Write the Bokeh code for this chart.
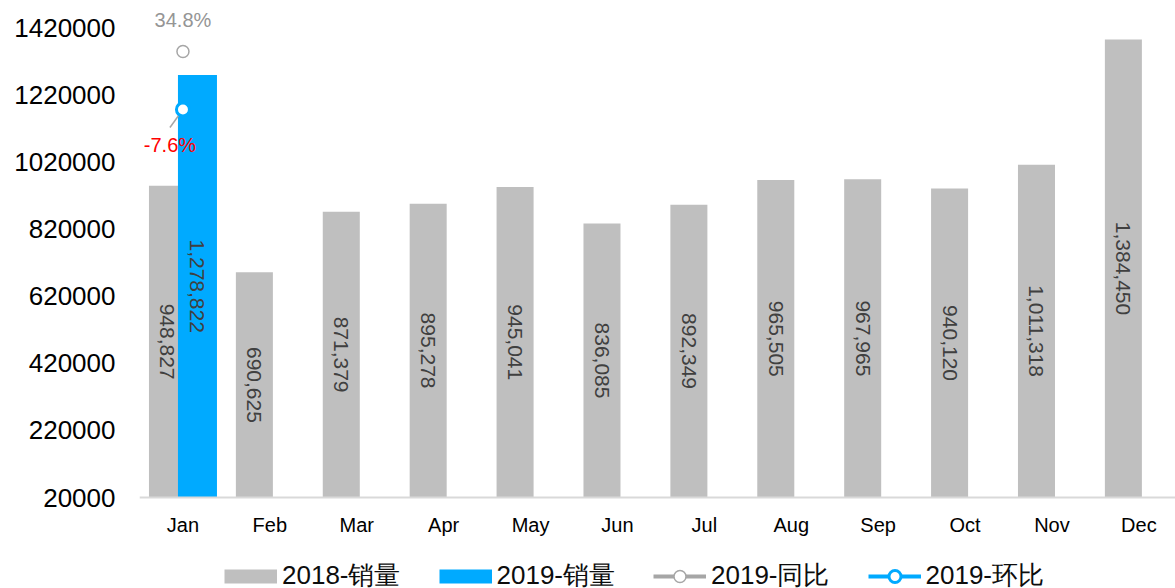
import math
from bokeh.plotting import figure
from bokeh.models import ColumnDataSource, Range1d, FixedTicker, Legend, LegendItem, NumeralTickFormatter
from bokeh.core.properties import value
from bokeh.embed import file_html
from bokeh.resources import INLINE

# ---- data ----
months = ["Jan", "Feb", "Mar", "Apr", "May", "Jun", "Jul", "Aug", "Sep", "Oct", "Nov", "Dec"]
sales_2018 = [948827, 690625, 871379, 895278, 945041, 836085, 892349, 965505, 967965, 940120, 1011318, 1384450]
months_2019 = ["Jan"]
sales_2019 = [1278822]
yoy_2019 = [34.8]     # 2019-同比 (%)
mom_2019 = [-7.6]     # 2019-环比 (%)
y_ticks = [20000, 220000, 420000, 620000, 820000, 1020000, 1220000, 1420000]

# ---- style / layout constants ----
GRAY = "#bfbfbf"
BLUE = "#00aaff"
FONT = "Liberation Sans"
Y_MIN = y_ticks[0]
PX_PER_CAT = 86.9
OFF_2018, W_2018 = -0.178, 0.426
OFF_2019, W_2019 = 0.167, 0.449

idx = {m: i for i, m in enumerate(months)}

src18 = ColumnDataSource(dict(
    x=[idx[m] + OFF_2018 for m in months],
    top=sales_2018,
    ymid=[(Y_MIN + v) / 2 for v in sales_2018],
    label=[f"{v:,}" for v in sales_2018],
))
src19 = ColumnDataSource(dict(
    x=[idx[m] + OFF_2019 for m in months_2019],
    top=sales_2019,
    ymid=[(Y_MIN + v) / 2 for v in sales_2019],
    label=[f"{v:,}" for v in sales_2019],
))
xs19 = [idx[m] for m in months_2019]
src_yoy = ColumnDataSource(dict(x=xs19, y=yoy_2019, label=[f"{v:.1f}%" for v in yoy_2019]))
src_mom = ColumnDataSource(dict(x=xs19, y=mom_2019, label=[f"{v:.1f}%" for v in mom_2019]))

# layout: frame covers full figure height; x axis drawn at y=Y_MIN (fixed location)
W, H = 1175, 588
frame_left_border = 139
frame_w = W - frame_left_border
x_end = -0.5 + frame_w / PX_PER_CAT
PX_PER_UNIT = 470 / (y_ticks[-1] - y_ticks[0])   # 1,400,000 units over 470 px
TOP_TICK_PX = 27                                  # px from top to top tick
AXIS_PX = 497                                     # px from top to axis line
Y_HI = y_ticks[-1] + TOP_TICK_PX / PX_PER_UNIT
Y_LO = Y_MIN - (H - AXIS_PX) / PX_PER_UNIT
PX_PER_PCT = 1.3679
PCT_HI = yoy_2019[0] + 51 / PX_PER_PCT
PCT_LO = PCT_HI - H / PX_PER_PCT

p = figure(width=W, height=H, output_backend="svg", toolbar_location=None,
           x_range=Range1d(-0.5, x_end), y_range=Range1d(Y_LO, Y_HI),
           min_border_left=frame_left_border, min_border_right=0,
           min_border_top=0, min_border_bottom=0)
p.extra_y_ranges = {"pct": Range1d(PCT_LO, PCT_HI)}
p.outline_line_color = None
p.xgrid.visible = False
p.ygrid.visible = False
p.background_fill_color = "white"
p.border_fill_color = "white"

# axes
p.xaxis.fixed_location = Y_MIN
p.xaxis.ticker = FixedTicker(ticks=list(range(len(months))))
p.xaxis.major_label_overrides = {i: m for i, m in enumerate(months)}
p.xaxis.axis_line_color = "#d9d9d9"
p.xaxis.axis_line_width = 2
p.xaxis.major_tick_line_color = None
p.xaxis.minor_tick_line_color = None
p.xaxis.major_label_text_font = FONT
p.xaxis.major_label_text_font_size = "20px"
p.xaxis.major_label_text_color = "#000000"
p.xaxis.major_label_standoff = 10

p.yaxis.ticker = FixedTicker(ticks=y_ticks)
p.yaxis.formatter = NumeralTickFormatter(format="0")
p.yaxis.axis_line_color = None
p.yaxis.major_tick_line_color = None
p.yaxis.minor_tick_line_color = None
p.yaxis.major_label_text_font = FONT
p.yaxis.major_label_text_font_size = "26px"
p.yaxis.major_label_text_color = "#000000"
p.yaxis.major_label_standoff = 18

# bars
r18 = p.vbar(x="x", top="top", bottom=Y_MIN, width=W_2018, source=src18,
             fill_color=GRAY, line_color=None)
r19 = p.vbar(x="x", top="top", bottom=Y_MIN, width=W_2019, source=src19,
             fill_color=BLUE, line_color=None)

# bar value labels (vertical)
for s in (src18, src19):
    p.text(x="x", y="ymid", text="label", source=s, angle=-math.pi / 2,
           text_align="center", text_baseline="middle",
           text_font=value(FONT), text_font_size="21px", text_color="#404040")

# lines + markers (secondary axis)
l_yoy = p.line(x="x", y="y", source=src_yoy, y_range_name="pct", line_color="#a6a6a6", line_width=4)
l_mom = p.line(x="x", y="y", source=src_mom, y_range_name="pct", line_color=BLUE, line_width=4)

# leader line for 环比 label
lead = ColumnDataSource(dict(
    x0=xs19, y0=mom_2019,
    x1=[x - 13 / PX_PER_CAT for x in xs19],
    y1=[v - 18 / PX_PER_PCT for v in mom_2019],
))
p.segment(x0="x0", y0="y0", x1="x1", y1="y1", source=lead, y_range_name="pct",
          line_color="#a6a6a6", line_width=1.5)

c_yoy = p.scatter(x="x", y="y", source=src_yoy, y_range_name="pct", size=12,
                  fill_color="white", line_color="#a6a6a6", line_width=1.5)
c_mom = p.scatter(x="x", y="y", source=src_mom, y_range_name="pct", size=13,
                  fill_color="white", line_color=BLUE, line_width=3)

p.text(x="x", y="y", text="label", source=src_yoy, y_range_name="pct",
       x_offset=0, y_offset=-32, text_align="center", text_baseline="middle",
       text_font=value(FONT), text_font_size="20px", text_color="#959595")
p.text(x="x", y="y", text="label", source=src_mom, y_range_name="pct",
       x_offset=-13, y_offset=36, text_align="center", text_baseline="middle",
       text_font=value(FONT), text_font_size="20px", text_color="#ff0000")

# legend swatches for the bar series (legend-only proxies, nothing drawn in plot)
nan = float("nan")
sw18 = p.line(x=[nan], y=[nan], line_color=GRAY, line_width=14, line_cap="butt")
sw19 = p.line(x=[nan], y=[nan], line_color=BLUE, line_width=14, line_cap="butt")

lg = Legend(items=[LegendItem(label="2018-销量", renderers=[sw18]),
                   LegendItem(label="2019-销量", renderers=[sw19]),
                   LegendItem(label="2019-同比", renderers=[l_yoy, c_yoy]),
                   LegendItem(label="2019-环比", renderers=[l_mom, c_mom])],
            location=(85, -5), glyph_width=53, glyph_height=30,
            label_standoff=5, spacing=38, orientation="horizontal",
            padding=0, margin=0, border_line_color=None, background_fill_alpha=0,
            label_text_font=FONT, label_text_font_size="26px",
            label_text_color="#0d0d0d")
p.add_layout(lg, "center")

open("out.html", "w").write(file_html(p, INLINE))
